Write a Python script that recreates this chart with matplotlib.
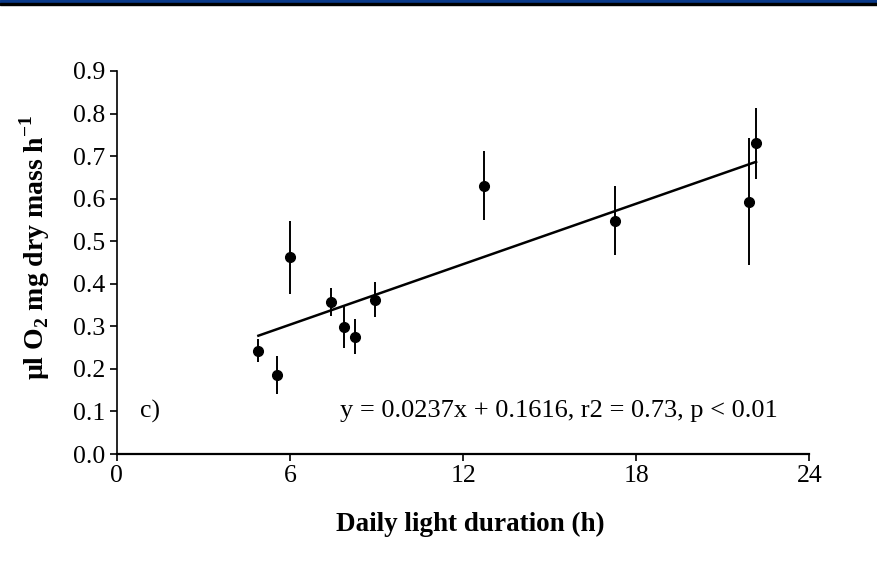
import matplotlib.pyplot as plt
from matplotlib.patches import Rectangle

# Daily light duration (h) vs O2 consumption
light_h = [4.91, 5.57, 5.99, 7.42, 7.88, 8.26, 8.94, 12.72, 17.27, 21.9, 22.15]
o2_rate = [0.243, 0.186, 0.462, 0.358, 0.299, 0.276, 0.363, 0.630, 0.548, 0.593, 0.730]
o2_err = [0.028, 0.044, 0.086, 0.033, 0.051, 0.042, 0.041, 0.081, 0.081, 0.150, 0.084]

slope = 0.0237
intercept = 0.1616

x_ticks = [0, 6, 12, 18, 24]
y_ticks = [0.0, 0.1, 0.2, 0.3, 0.4, 0.5, 0.6, 0.7, 0.8, 0.9]

plt.rcParams['font.family'] = ['Liberation Serif', 'DejaVu Serif']
plt.rcParams['mathtext.fontset'] = 'custom'
plt.rcParams['mathtext.rm'] = 'Liberation Serif'
plt.rcParams['mathtext.bf'] = 'Liberation Serif:bold'

fig = plt.figure(figsize=(8.77, 5.76), dpi=100)
ax = fig.add_axes([0.133, 0.2118, 0.79, 0.665])

# top banner
fig.patches.append(Rectangle((0, 1 - 3 / 576), 1, 3 / 576, transform=fig.transFigure,
                             color='#0b3a8a', zorder=0))
fig.patches.append(Rectangle((0, 1 - 5 / 576), 1, 2 / 576, transform=fig.transFigure,
                             color='black', zorder=0))

ax.errorbar(light_h, o2_rate, yerr=o2_err, fmt='o', color='black', ms=7,
            elinewidth=1.4, capsize=0, zorder=3)

x_fit = [min(light_h), max(light_h)]
y_fit = [slope * v + intercept for v in x_fit]
ax.plot(x_fit, y_fit, color='black', lw=1.8, zorder=2)

ax.set_xlim(0, 24)
ax.set_ylim(0, 0.9)
ax.set_xticks(x_ticks)
ax.set_yticks(y_ticks)
ax.set_yticklabels([f"{v:.1f}" for v in y_ticks])
ax.tick_params(labelsize=18.5, width=1.2, length=5, direction='out', pad=3)
ax.spines['top'].set_visible(False)
ax.spines['right'].set_visible(False)
ax.spines['left'].set_linewidth(1.2)
ax.spines['bottom'].set_linewidth(1.6)

ax.set_xlabel("Daily light duration (h)", fontsize=19.5, fontweight='bold')
ax.xaxis.set_label_coords(0.51, -0.152)
ax.set_ylabel(r"µl O$_\mathbf{2}$ mg dry mass h$^\mathbf{-1}$", fontsize=20,
              fontweight='bold')
ax.yaxis.set_label_coords(-0.094, 0.54)

ax.text(0.8, 0.1, "c)", fontsize=18.5, va='center')
ax.text(7.73, 0.1, f"y = {slope}x + {intercept}, r2 = 0.73, p < 0.01", fontsize=19, va='center')

fig.savefig("out.png", dpi=100)
